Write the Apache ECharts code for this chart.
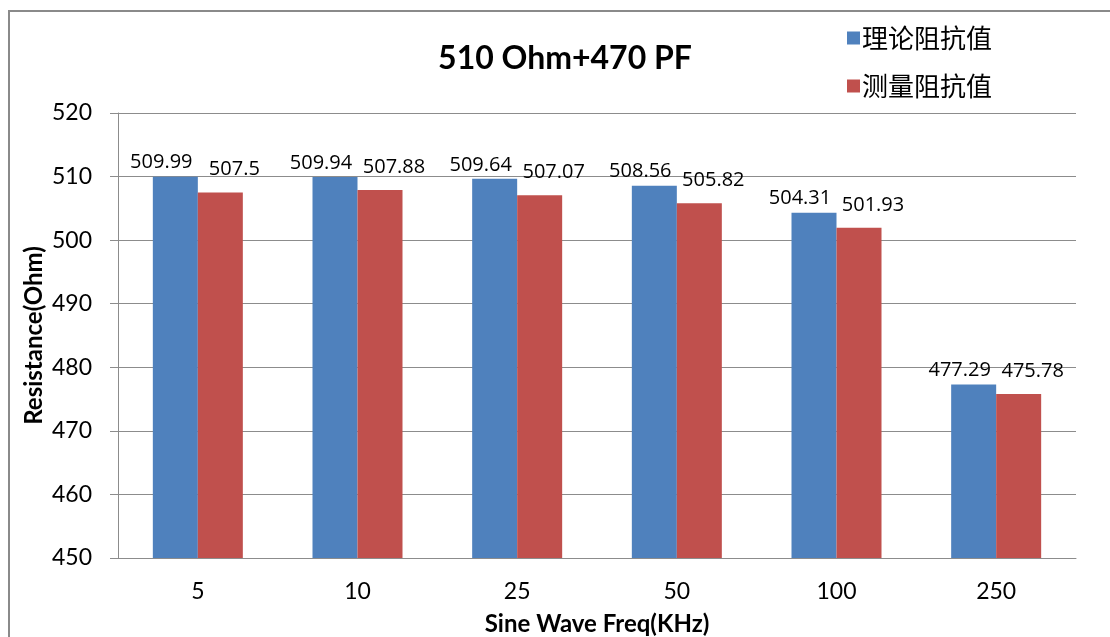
<!DOCTYPE html>
<html><head><meta charset="utf-8">
<script src="https://cdn.jsdelivr.net/npm/echarts@6/dist/echarts.min.js"></script>
<style>html,body{margin:0;padding:0;background:#fff}#c{width:1110px;height:637px}</style>
</head><body><div id="c"></div>
<script>
const categories = ['5', '10', '25', '50', '100', '250'];
const theoretical = [509.99, 509.94, 509.64, 508.56, 504.31, 477.29];
const measured = [507.5, 507.88, 507.07, 505.82, 501.93, 475.78];
const seriesNames = ['理论阻抗值', '测量阻抗值'];
const yTicks = { min: 450, max: 520, interval: 10 };

const numFont = 'Lato, "Open Sans", sans-serif';
const chart = echarts.init(document.getElementById('c'));
chart.setOption({
  animation: false,
  backgroundColor: '#fff',
  title: {
    text: '510 Ohm+470 PF', left: 560, textAlign: 'center', top: 38,
    textStyle: { fontFamily: numFont, fontWeight: 'bold', fontSize: 32, color: '#000' }
  },
  legend: {
    orient: 'vertical', left: 842, top: 20, itemWidth: 13, itemHeight: 13, itemGap: 22,
    icon: 'rect',
    textStyle: { fontFamily: '"Noto Sans CJK SC", sans-serif', fontSize: 26, color: '#000', padding: [0, 0, 0, -3] },
    data: seriesNames
  },
  graphic: [{
    type: 'rect', shape: { x: 9, y: 11, width: 1200, height: 700 },
    style: { fill: 'none', stroke: '#8a8a8a', lineWidth: 2 }, silent: true
  }],
  grid: { left: 118, right: 34, top: 113, bottom: 79, outerBoundsMode: 'none', containLabel: false },
  xAxis: {
    type: 'category', data: categories,
    name: 'Sine Wave Freq(KHz)', nameLocation: 'middle', nameGap: 54,
    nameTextStyle: { fontFamily: numFont, fontWeight: 'bold', fontSize: 24, color: '#000' },
    axisLine: { lineStyle: { color: '#8c8c8c', width: 1 } },
    axisTick: { length: 8, interval: 0, lineStyle: { color: '#8c8c8c' } },
    axisLabel: { fontFamily: numFont, fontSize: 23, color: '#000', margin: 22 }
  },
  yAxis: {
    type: 'value', min: yTicks.min, max: yTicks.max, interval: yTicks.interval,
    name: 'Resistance(Ohm)', nameLocation: 'middle', nameGap: 72, nameRotate: 90,
    nameMoveOverlap: false,
    nameTextStyle: { fontFamily: numFont, fontWeight: 'bold', fontSize: 24, color: '#000' },
    axisLine: { show: true, lineStyle: { color: '#8c8c8c', width: 1 } },
    axisTick: { show: true, length: 8, lineStyle: { color: '#8c8c8c' } },
    splitLine: { lineStyle: { color: '#8c8c8c', width: 1 } },
    axisLabel: { fontFamily: numFont, fontSize: 23, color: '#000', margin: 26 }
  },
  series: [
    {
      name: seriesNames[0], type: 'bar', data: theoretical, barWidth: 45, barGap: '0%',
      itemStyle: { color: '#4F81BD' },
      label: { show: true, position: 'top', distance: 4, offset: [-14, 0],
        fontFamily: '"Open Sans", sans-serif', fontSize: 20, color: '#000' }
    },
    {
      name: seriesNames[1], type: 'bar', data: measured, barWidth: 45,
      itemStyle: { color: '#C0504D' },
      label: { show: true, position: 'top', distance: 13, offset: [14, 0],
        fontFamily: '"Open Sans", sans-serif', fontSize: 20, color: '#000' }
    }
  ]
});
</script></body></html>
